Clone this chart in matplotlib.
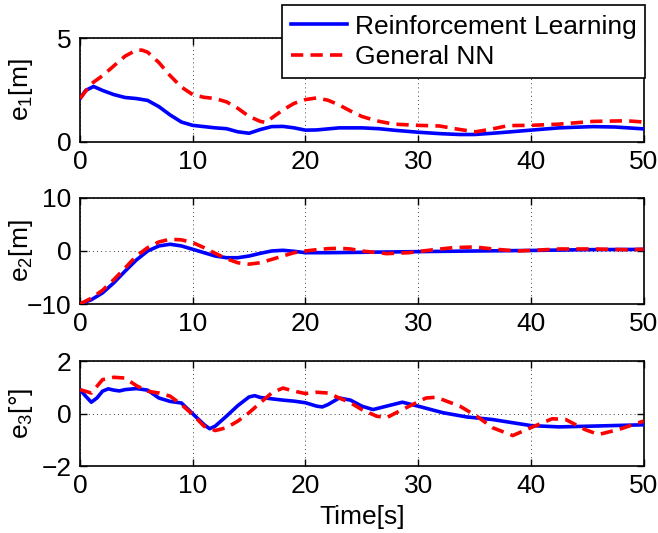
import matplotlib
matplotlib.use("Agg")
import matplotlib.pyplot as plt

plt.rcParams['font.family'] = ['Liberation Sans', 'DejaVu Sans']
plt.rcParams['mathtext.fontset'] = 'custom'
plt.rcParams['mathtext.rm'] = 'Liberation Sans'
plt.rcParams['mathtext.it'] = 'Liberation Sans'

# e1 [m]
t_e1_rl = [0, 0.5, 1.2, 2, 3, 4, 5, 6, 7, 8, 9, 10, 11, 12, 13, 14, 15, 16, 17, 18, 19, 20,
           21, 22, 23, 24, 25, 26.5, 28, 30, 32, 33.7, 35, 36.6, 38, 40, 42.5, 45.5, 47.5, 50]
e1_rl = [2.09, 2.48, 2.67, 2.48, 2.28, 2.14, 2.09, 2.0, 1.70, 1.30, 0.96, 0.80, 0.74, 0.68, 0.64,
         0.49, 0.42, 0.60, 0.74, 0.75, 0.68, 0.57, 0.58, 0.63, 0.68, 0.68, 0.68, 0.64, 0.56, 0.47,
         0.40, 0.36, 0.36, 0.42, 0.48, 0.57, 0.68, 0.74, 0.72, 0.63]
t_e1_nn = [0, 1, 2, 3, 4, 5, 5.5, 6, 7, 8, 9, 10, 11, 12, 13, 14, 15, 16, 16.5, 17, 18, 19, 20,
           21, 22, 23, 24, 25, 26.3, 27.8, 30, 31.9, 33.7, 35.1, 36.6, 38, 40, 42.5, 45.5, 48.5, 50]
e1_nn = [2.09, 2.80, 3.19, 3.66, 4.13, 4.42, 4.42, 4.32, 3.82, 3.19, 2.64, 2.28, 2.15, 2.09, 1.93,
         1.62, 1.23, 0.99, 0.94, 1.15, 1.54, 1.86, 2.04, 2.12, 2.01, 1.78, 1.49, 1.23, 1.02, 0.86,
         0.80, 0.77, 0.60, 0.49, 0.63, 0.79, 0.80, 0.86, 0.99, 1.02, 0.96]

# e2 [m]
t_e2_rl = [0, 1, 2, 3, 4, 5, 6, 7, 8, 9, 10, 11, 12, 13, 14, 15, 16, 17, 18, 19, 20, 22, 25,
           30, 35, 40, 45, 50]
e2_rl = [-9.97, -9.2, -7.9, -6.0, -3.8, -1.7, 0, 0.95, 1.27, 0.95, 0.32, -0.32, -0.95, -1.27,
         -1.27, -0.95, -0.44, 0, 0.13, -0.06, -0.32, -0.32, -0.25, -0.12, 0.0, 0.1, 0.25, 0.3]
t_e2_nn = [0, 1, 2, 3, 4, 5, 6, 7, 8, 9, 10, 11, 12, 13, 14, 15, 16, 17, 18, 19, 20, 21, 22, 23,
           24, 25, 27.2, 29.2, 31.4, 33.1, 35, 36.9, 38.8, 40.8, 42.5, 45.5, 48.5, 50]
e2_nn = [-10, -8.9, -7.4, -5.4, -3.2, -0.95, 0.63, 1.71, 2.22, 2.10, 1.59, 0.63, -0.44, -1.46,
         -2.22, -2.48, -2.22, -1.59, -0.95, -0.32, 0, 0.25, 0.44, 0.51, 0.38, 0, -0.5, -0.32,
         0.25, 0.63, 0.76, 0.32, 0, 0.19, 0.38, 0.38, 0.25, 0.32]

# e3 [deg]
t_e3_rl = [0, 0.5, 1, 1.5, 2, 2.5, 3, 3.5, 4, 5, 6, 7, 8, 9, 10, 11, 11.5, 12, 13, 14, 15, 15.5,
           16, 17, 18, 19, 20, 21, 21.5, 22, 23, 24, 25, 26, 27.2, 28.6, 30, 32.2, 34.3, 36.6,
           40, 42.5, 45.5, 50]
e3_rl = [0.91, 0.66, 0.43, 0.59, 0.85, 0.94, 0.89, 0.86, 0.91, 0.95, 0.89, 0.59, 0.46, 0.40,
         -0.01, -0.42, -0.58, -0.48, -0.10, 0.30, 0.63, 0.68, 0.61, 0.56, 0.51, 0.47, 0.41, 0.28,
         0.25, 0.34, 0.59, 0.51, 0.28, 0.15, 0.28, 0.43, 0.28, 0.03, -0.13, -0.23, -0.46, -0.51,
         -0.48, -0.43]
t_e3_nn = [0, 1, 2, 3, 4, 5, 6, 7, 8, 9, 10, 11, 12, 13, 14, 15, 16, 17, 18, 19, 20, 21, 22, 23,
           24, 25, 26.3, 27.2, 28.6, 30.7, 31.6, 33.7, 35.2, 36.6, 38.4, 40, 41.9, 43.1, 44.8,
           46, 47.8, 50]
e3_nn = [0.91, 0.78, 1.29, 1.38, 1.35, 1.06, 0.85, 0.78, 0.66, 0.34, -0.04, -0.48, -0.65, -0.54,
         -0.29, 0.03, 0.41, 0.78, 0.97, 0.85, 0.76, 0.81, 0.78, 0.59, 0.41, 0.15, -0.10, -0.16,
         0.15, 0.59, 0.62, 0.28, -0.10, -0.54, -0.84, -0.54, -0.20, -0.23, -0.61, -0.80, -0.61,
         -0.29]

panels = [
    (t_e1_rl, e1_rl, t_e1_nn, e1_nn, "e$_1$[m]", (0, 5), [0, 5]),
    (t_e2_rl, e2_rl, t_e2_nn, e2_nn, "e$_2$[m]", (-10, 10), [-10, 0, 10]),
    (t_e3_rl, e3_rl, t_e3_nn, e3_nn, "e$_3$[°]", (-2, 2), [-2, 0, 2]),
]
positions = [
    [0.1216, 0.7336, 0.8564, 0.195],
    [0.1216, 0.4296, 0.8564, 0.199],
    [0.1216, 0.1257, 0.8564, 0.197],
]

fs = 19
fig = plt.figure(figsize=(6.58, 5.33), dpi=100)

for i, (tr, yr, tn, yn, lab, ylim, yticks) in enumerate(panels):
    ax = fig.add_axes(positions[i])
    l1, = ax.plot(tr, yr, color='#0000ff', lw=2.6, solid_joinstyle='round',
                  label='Reinforcement Learning', zorder=3)
    l2, = ax.plot(tn, yn, color='#ff0000', lw=2.6, linestyle='--', dashes=(3.4, 2.0),
                  label='General NN', zorder=4)
    ax.set_xlim(0, 50)
    ax.set_ylim(*ylim)
    ax.set_xticks([0, 10, 20, 30, 40, 50])
    ax.set_yticks(yticks)
    ax.grid(True, color='black', linestyle=(0, (1, 4)), linewidth=0.6)
    ax.tick_params(direction='in', length=5, width=1, labelsize=fs, pad=6,
                   top=True, right=True)
    for s in ax.spines.values():
        s.set_linewidth(1.2)
    ax.set_ylabel(lab, fontsize=fs)
    ax.yaxis.set_label_coords(-0.08, 0.5)
    if i == 2:
        ax.set_xlabel("Time[s]", fontsize=fs, labelpad=5)

leg = fig.legend([l1, l2], ['Reinforcement Learning', 'General NN'], loc='upper right',
                 bbox_to_anchor=(0.981, 0.99), borderaxespad=0, fontsize=fs,
                 handlelength=2.1, handletextpad=0.3, labelspacing=0.25,
                 borderpad=0.35, fancybox=False, framealpha=1, edgecolor='black')
leg.get_frame().set_linewidth(1.2)

plt.savefig("out.png", dpi=100)
plt.close()
